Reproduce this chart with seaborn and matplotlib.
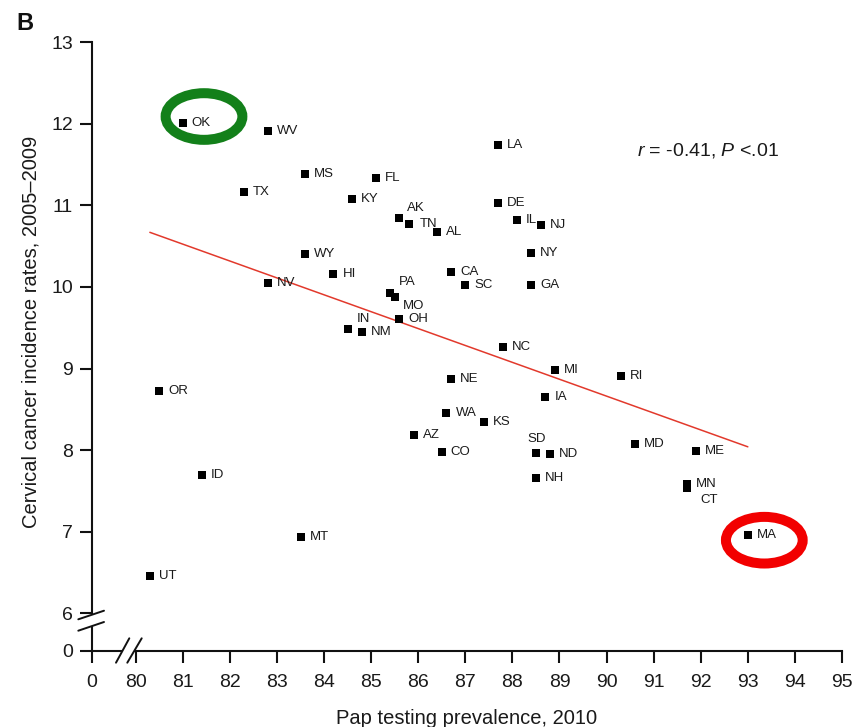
import numpy as np
import pandas as pd
import matplotlib
matplotlib.use("Agg")
import matplotlib.pyplot as plt
import seaborn as sns
from matplotlib.patches import Ellipse, Polygon
from matplotlib.lines import Line2D
from matplotlib.transforms import IdentityTransform

# ---------------- data ----------------
states = ["OK", "WV", "MS", "FL", "TX", "KY", "AK", "TN", "AL", "LA", "DE", "IL",
          "NJ", "NY", "WY", "HI", "NV", "CA", "SC", "GA", "PA", "MO", "OH", "IN",
          "NM", "NC", "MI", "RI", "NE", "OR", "IA", "WA", "KS", "AZ", "CO", "MD",
          "SD", "ND", "ME", "NH", "MN", "CT", "ID", "MT", "MA", "UT"]
pap_2010 = [81.0, 82.8, 83.6, 85.1, 82.3, 84.6, 85.6, 85.8, 86.4, 87.7, 87.7, 88.1,
            88.6, 88.4, 83.6, 84.2, 82.8, 86.7, 87.0, 88.4, 85.4, 85.5, 85.6, 84.5,
            84.8, 87.8, 88.9, 90.3, 86.7, 80.5, 88.7, 86.6, 87.4, 85.9, 86.5, 90.6,
            88.5, 88.8, 91.9, 88.5, 91.7, 91.7, 81.4, 83.5, 93.0, 80.3]
incidence = [12.01, 11.91, 11.38, 11.33, 11.16, 11.08, 10.85, 10.77, 10.67, 11.74, 11.03, 10.82,
             10.76, 10.42, 10.41, 10.16, 10.05, 10.18, 10.02, 10.02, 9.92, 9.88, 9.61, 9.49,
             9.45, 9.26, 8.98, 8.91, 8.87, 8.72, 8.65, 8.46, 8.35, 8.18, 7.98, 8.08,
             7.96, 7.95, 7.99, 7.66, 7.59, 7.53, 7.70, 6.94, 6.96, 6.46]
trend_x = [80.3, 93.0]
trend_y = [10.67, 8.04]
x_ticks = [0, 80, 81, 82, 83, 84, 85, 86, 87, 88, 89, 90, 91, 92, 93, 94, 95]
y_ticks = [0, 6, 7, 8, 9, 10, 11, 12, 13]
stat_text = r"$\mathit{r}$ = -0.41, $\mathit{P}$ <.01"
highlight_good = "OK"
highlight_bad = "MA"

# ---------------- layout / style ----------------
W, H = 860, 727
X_ZERO_POS = 79.065   # where the broken x axis places its "0"
Y_ZERO_POS = 5.54     # where the broken y axis places its "0"
# label offsets in pixels (dx, dy up-positive), default (9, 0)
label_offsets = {
    "AK": (8, 9.6), "TN": (11, 0), "PA": (9, 11), "MO": (8.3, -9.7),
    "IN": (9, 9.7), "CT": (13.3, -11.7),
}
label_centered = {"SD": (1, 14.3)}

sns.set_theme(style="white")
plt.rcParams["font.family"] = ["Liberation Sans", "DejaVu Sans"]
plt.rcParams["mathtext.fontset"] = "custom"
plt.rcParams["mathtext.rm"] = "Liberation Sans"
plt.rcParams["mathtext.it"] = "Liberation Sans:italic"

fig = plt.figure(figsize=(W / 100, H / 100), dpi=100)
ax_l, ax_r, ax_t, ax_b = 91.7, 842.0, 42.3, 650.7
ax = fig.add_axes([ax_l / W, 1 - ax_b / H, (ax_r - ax_l) / W, (ax_b - ax_t) / H])

df = pd.DataFrame({"state": states, "x": pap_2010, "y": incidence})

sns.lineplot(x=trend_x, y=trend_y, color="#e2392c", linewidth=1.1, ax=ax, zorder=2)
sns.scatterplot(data=df, x="x", y="y", marker="s", s=26, color="black",
                linewidth=0, ax=ax, zorder=3)

PX = 0.72  # pixels -> points
for st, xv, yv in zip(states, pap_2010, incidence):
    if st in label_centered:
        dx, dy = label_centered[st]
        ax.annotate(st, (xv, yv), xytext=(dx * PX, dy * PX), textcoords="offset points",
                    ha="center", va="center", fontsize=9.5, color="#1a1a1a", zorder=4)
    else:
        dx, dy = label_offsets.get(st, (9, 0))
        ax.annotate(st, (xv, yv), xytext=(dx * PX, dy * PX), textcoords="offset points",
                    ha="left", va="center", fontsize=9.5, color="#1a1a1a", zorder=4)

# highlight ellipses around the best / worst states
for st, col, off in [(highlight_good, "#13801a", (0.45, 0.08)),
                     (highlight_bad, "#f20000", (0.35, -0.065))]:
    row = df[df.state == st].iloc[0]
    ax.add_patch(Ellipse((row.x + off[0], row.y + off[1]), width=1.63, height=0.572,
                         fill=False, edgecolor=col, linewidth=7.2, zorder=5))

ax.set_xlim(X_ZERO_POS, 95)
ax.set_ylim(Y_ZERO_POS, 13)
ax.set_xticks([X_ZERO_POS if v == 0 else v for v in x_ticks])
ax.set_xticklabels([str(v) for v in x_ticks])
ax.set_yticks([Y_ZERO_POS if v == 0 else v for v in y_ticks])
ax.set_yticklabels([str(v) for v in y_ticks])

for s in ["top", "right"]:
    ax.spines[s].set_visible(False)
for s in ["left", "bottom"]:
    ax.spines[s].set_linewidth(1.5)
    ax.spines[s].set_color("#111111")
ax.tick_params(axis="both", direction="out", length=8.5, width=1.5, color="#111111",
               labelsize=14, labelcolor="#1a1a1a", left=True, bottom=True)
ax.tick_params(axis="x", pad=8)
ax.tick_params(axis="y", pad=5)

ax.set_xlabel("Pap testing prevalence, 2010", fontsize=14.5, color="#1a1a1a", labelpad=13)
ax.set_ylabel("Cervical cancer incidence rates, 2005\u20132009", fontsize=14.5, color="#1a1a1a")
ax.yaxis.set_label_coords(-0.0676, 0.524)

fig.text(636.7 / W, 1 - 156 / H, stat_text, fontsize=14, color="#1a1a1a",
         ha="left", va="baseline")
fig.text(16.5 / W, 1 - 30 / H, "B", fontsize=17, fontweight="bold", color="#111111",
         ha="left", va="baseline")

# ---- axis break marks (pixel coordinates, y measured from top) ----
def pline(x0, y0, x1, y1):
    fig.add_artist(Line2D([x0, x1], [H - y0, H - y1], transform=IdentityTransform(),
                          color="#111111", linewidth=1.4, zorder=10))

def pwhite(pts):
    fig.add_artist(Polygon([(x, H - y) for x, y in pts], closed=True, transform=IdentityTransform(),
                           facecolor="white", edgecolor="none", zorder=9))

# y-axis break
pwhite([(85, 617.1), (98, 612.7), (98, 624.1), (85, 628.5)])
pline(78.3, 619.3, 104, 610.7)
pline(78.3, 630.7, 104, 622.0)
# x-axis break
pwhite([(119.9, 655.5), (125.1, 646.0), (137.2, 646.0), (131.8, 655.5)])
pline(116.0, 662.7, 129.3, 638.3)
pline(127.3, 662.7, 141.7, 638.3)

fig.savefig("out.png", dpi=100)
